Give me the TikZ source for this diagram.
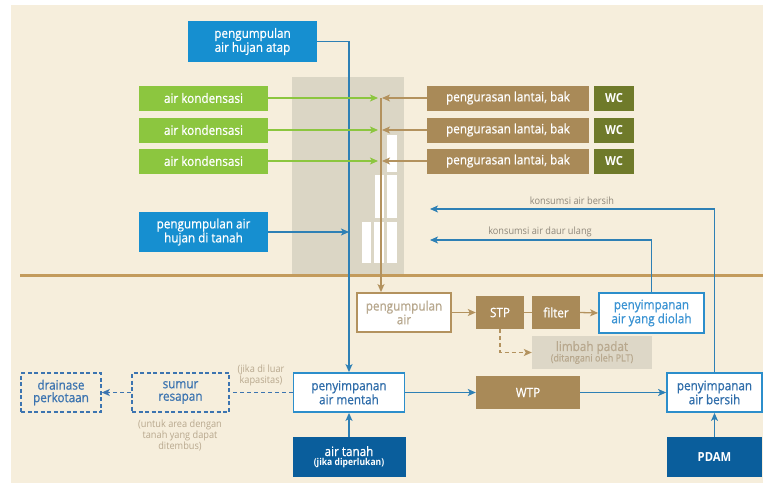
\documentclass[tikz,border=0pt]{standalone}
\usepackage{fontspec}
\setmainfont{Open Sans}[FakeStretch=0.92]
\newfontfamily\bfont{Open Sans}[FakeStretch=0.9, FakeBold=0.7]
\newfontfamily\bbfont{Open Sans Bold}[FakeStretch=0.9]
\usetikzlibrary{arrows.meta}
\definecolor{cream}{HTML}{F6EEDC}
\definecolor{bldg}{HTML}{DBD6C5}
\definecolor{lblue}{HTML}{168FD0}
\definecolor{dblue}{HTML}{0A5E9C}
\definecolor{lgreen}{HTML}{8CC63F}
\definecolor{brn}{HTML}{A98A58}
\definecolor{olive}{HTML}{6F7A2A}
\definecolor{linebl}{HTML}{2E80B5}
\definecolor{brline}{HTML}{B3925E}
\definecolor{ground}{HTML}{C39B5C}
\definecolor{greytxt}{HTML}{8E877A}
\definecolor{palebrn}{HTML}{B8A88E}
\definecolor{limbfill}{HTML}{DDD7C7}
\definecolor{bordbl}{HTML}{2C8ECB}
\definecolor{txtbl}{HTML}{3A93D3}
\definecolor{txtdb}{HTML}{2F6DAA}
\definecolor{dashbl}{HTML}{3C74B0}
\begin{document}
\begin{tikzpicture}[x=1pt,y=-1pt,
  box/.style={rectangle, inner sep=0pt, align=center, font=\bfont\fontsize{13}{12.5}\selectfont},
  lb/.style={box, fill=lblue, text=white},
  db/.style={box, fill=dblue, text=white},
  gb/.style={box, fill=lgreen, text=white},
  bb/.style={box, fill=brn, text=white},
  wcb/.style={box, fill=olive, text=white, font=\bbfont\fontsize{12.5}{12.5}\selectfont},
  wbox/.style={box, fill=white, draw=bordbl, line width=1.8pt, text=txtbl},
  dbox/.style={box, draw=dashbl, line width=1.6pt, dash pattern=on 4pt off 2.5pt, text=dashbl},
  tip/.style={-{Stealth[length=8pt,width=7pt,inset=2pt]}},
  bline/.style={draw=linebl, line width=1.3pt},
  gline/.style={draw=lgreen, line width=1.3pt, tip},
  brl/.style={draw=brline, line width=1.3pt},
  small/.style={align=center, inner sep=0pt, text=greytxt, font=\fontsize{10}{9.5}\selectfont}
]
\useasboundingbox (0,0) rectangle (763,485);
\fill[white] (0,0) rectangle (763,485);
\fill[cream] (11,5) rectangle (763,483);
% building
\fill[bldg] (292,77) rectangle (404,275);
\fill[white] (387,135) rectangle (397,172);
\fill[white] (375,175) rectangle (384,218);
\fill[white] (387,175) rectangle (397,218);
\fill[white] (362,222) rectangle (371,263);
\fill[white] (374,222) rectangle (384,263);
\fill[white] (387,222) rectangle (397,263);
% ground line
\draw[ground, line width=3pt] (20,275) -- (763,275);

% nodes
\node[lb, minimum width=129, minimum height=41] (atap) at (252.5,41.5) {pengumpulan\\air hujan atap};
\node[gb, minimum width=129, minimum height=25] (k1) at (203.5,98) {air kondensasi};
\node[gb, minimum width=129, minimum height=25] (k2) at (203.5,130) {air kondensasi};
\node[gb, minimum width=129, minimum height=25] (k3) at (203.5,161) {air kondensasi};
\node[bb, minimum width=162, minimum height=25] (p1) at (508,98) {pengurasan lantai, bak};
\node[bb, minimum width=162, minimum height=25] (p2) at (508,130) {pengurasan lantai, bak};
\node[bb, minimum width=162, minimum height=25] (p3) at (508,161) {pengurasan lantai, bak};
\node[wcb, minimum width=40, minimum height=25] (w1) at (614,98) {WC};
\node[wcb, minimum width=40, minimum height=25] (w2) at (614,130) {WC};
\node[wcb, minimum width=40, minimum height=25] (w3) at (614,161) {WC};
\node[lb, minimum width=129, minimum height=40] (tanah) at (203.5,232) {pengumpulan air\\hujan di tanah};

\node[box, fill=white, draw=brline, line width=1.8pt, text=palebrn, minimum width=94, minimum height=39] (pa) at (404,312.5) {pengumpulan\\air};
\node[bb, minimum width=48, minimum height=33] (stp) at (500,312.5) {STP};
\node[bb, minimum width=48, minimum height=33] (filt) at (556,312.5) {filter};
\node[wbox, minimum width=105, minimum height=40] (diolah) at (651.5,313) {penyimpanan\\air yang diolah};
\node[box, fill=limbfill, text=palebrn, minimum width=120, minimum height=33] (limbah) at (592,352.5) {{\fontsize{13}{12}\selectfont limbah padat}\\[-2pt]{\fontsize{10}{10}\selectfont (ditangani oleh PLT)}};

\node[wbox, text=txtdb, minimum width=111, minimum height=39] (mentah) at (349,392.5) {penyimpanan\\air mentah};
\node[bb, minimum width=104, minimum height=33] (wtp) at (528,392.5) {WTP};
\node[wbox, text=txtdb, minimum width=95, minimum height=39] (bersih) at (714.5,392.5) {penyimpanan\\air bersih};
\node[db, minimum width=95, minimum height=40, font=\bbfont\fontsize{12.5}{12.5}\selectfont] (pdam) at (714.5,457) {PDAM};
\node[db, minimum width=113, minimum height=40] (airtanah) at (349,457) {air tanah\\[-3pt]{\bbfont\fontsize{9.5}{9.5}\selectfont (jika diperlukan)}};
\node[dbox, minimum width=97, minimum height=39] (sumur) at (180.5,392.5) {sumur\\resapan};
\node[dbox, minimum width=80, minimum height=39] (drain) at (61,392.5) {drainase\\perkotaan};

% texts
\node[small, text=palebrn] (jika) at (261,375) {(jika di luar\\kapasitas)};
\node[small, text=palebrn] (untuk) at (180,435) {(untuk area dengan\\tanah yang dapat\\ditembus)};
\node[small] (kbl) at (572,201) {konsumsi air bersih};
\node[small] (kdl) at (540,232) {konsumsi air daur ulang};

% coordinates
\coordinate (c1) at (349,41.5);
\coordinate (gx) at (378,0);
\coordinate (bx) at (382,0);
\coordinate (bt) at (381,98);
\coordinate (kb) at (430,209);
\coordinate (kd) at (430,240);

% connectors
\draw[bline, tip] (atap.east) -- (c1) -- (mentah.north);
\draw[bline, tip] (tanah.east) -- (tanah.east -| c1);
\draw[gline] (k1.east) -- (k1.east -| gx);
\draw[gline] (k2.east) -- (k2.east -| gx);
\draw[gline] (k3.east) -- (k3.east -| gx);
\draw[brl, tip] (p1.west) -- (p1.west -| bx);
\draw[brl, tip] (p2.west) -- (p2.west -| bx);
\draw[brl, tip] (p3.west) -- (p3.west -| bx);
\draw[brl, tip] (bt) -- (bt |- pa.north);
\draw[brl, tip] (pa.east) -- (stp.west);
\draw[brl] (stp.east) -- (filt.west);
\draw[brl, tip] (filt.east) -- (diolah.west);
\draw[brl, tip, dash pattern=on 4pt off 3pt] (stp.south) |- (limbah.west);
\draw[bline, tip] (bersih.north) |- (kb);
\draw[bline, tip] (diolah.north) |- (kd);
\draw[bline, tip] (mentah.east) -- (wtp.west);
\draw[bline, tip] (wtp.east) -- (bersih.west);
\draw[bline, tip] (pdam.north) -- (bersih.south);
\draw[bline, tip] (airtanah.north) -- (mentah.south);
\draw[draw=dashbl, line width=1.4pt, dash pattern=on 4pt off 3pt] (mentah.west) -- (sumur.east);
\draw[draw=dashbl, line width=1.4pt, dash pattern=on 4pt off 3pt, tip] (sumur.west) -- (drain.east);
\end{tikzpicture}
\end{document}
